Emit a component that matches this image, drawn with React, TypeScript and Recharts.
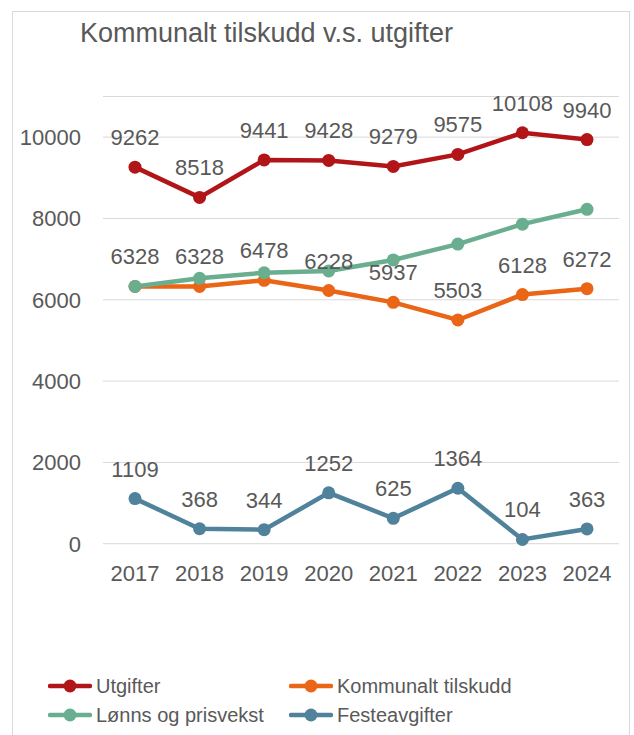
import { CartesianGrid, LabelList, Legend, Line, LineChart, XAxis, YAxis } from "recharts";

const years = ["2017", "2018", "2019", "2020", "2021", "2022", "2023", "2024"];
const utgifter = [9262, 8518, 9441, 9428, 9279, 9575, 10108, 9940];
const kommunaltTilskudd = [6328, 6328, 6478, 6228, 5937, 5503, 6128, 6272];
const lonnsOgPrisvekst = [6328, 6530, 6665, 6710, 6980, 7370, 7860, 8225];
const festeavgifter = [1109, 368, 344, 1252, 625, 1364, 104, 363];
const yTicks = [0, 2000, 4000, 6000, 8000, 10000];

const data = years.map((year, i) => ({
  year,
  utgifter: utgifter[i],
  tilskudd: kommunaltTilskudd[i],
  vekst: lonnsOgPrisvekst[i],
  feste: festeavgifter[i],
}));

const FONT = "'Liberation Sans', Arial, sans-serif";
const TEXT = "#595959";

const series = [
  { key: "utgifter", name: "Utgifter", color: "#B11518", labels: true },
  { key: "tilskudd", name: "Kommunalt tilskudd", color: "#EA6516", labels: true },
  { key: "vekst", name: "Lønns og prisvekst", color: "#69AE8F", labels: false },
  { key: "feste", name: "Festeavgifter", color: "#50829B", labels: true },
];

function LegendBox({ payload }: any) {
  // keep the series order, not the sorted one
  const items = [...(payload || [])].sort(
    (a: any, b: any) =>
      series.findIndex((s) => s.name === a.value) - series.findIndex((s) => s.name === b.value)
  );
  return (
    <div style={{ display: "grid", gridTemplateColumns: "241px 241px", rowGap: 9, fontFamily: FONT }}>
      {items.map((p: any) => (
        <div key={p.value} style={{ display: "flex", alignItems: "center", height: 20 }}>
          <svg width={44} height={16} style={{ marginRight: 4 }}>
            <line x1={2} y1={8} x2={42} y2={8} stroke={p.color} strokeWidth={4.5} strokeLinecap="round" />
            <circle cx={22} cy={8} r={6.5} fill={p.color} />
          </svg>
          <span style={{ fontSize: 20, color: TEXT, lineHeight: "20px" }}>{p.value}</span>
        </div>
      ))}
    </div>
  );
}

export default function App() {
  return (
    <div style={{ position: "absolute", left: 0, top: 0, width: 634, height: 735, background: "#fff", overflow: "hidden" }}>
      <div
        style={{
          position: "absolute",
          left: 12,
          top: 11,
          width: 618,
          height: 760,
          border: "1px solid #d9d9d9",
          boxSizing: "border-box",
        }}
      />
      <div
        style={{
          position: "absolute",
          left: 0,
          top: 20,
          width: 533,
          textAlign: "center",
          fontFamily: FONT,
          fontSize: 27,
          lineHeight: "27px",
          color: TEXT,
        }}
      >
        Kommunalt tilskudd v.s. utgifter
      </div>
      <LineChart
        width={634}
        height={735}
        data={data}
        margin={{ top: 96.5, right: 15, left: 14, bottom: 161.3 }}
        style={{ fontFamily: FONT }}
      >
        <CartesianGrid vertical={false} stroke="#d9d9d9" />
        <XAxis
          dataKey="year"
          axisLine={false}
          tickLine={false}
          tickSize={0}
          tickMargin={22}
          height={30}
          padding={{ left: 32, right: 32 }}
          tick={{ fontSize: 22, fill: TEXT, fontFamily: FONT }}
        />
        <YAxis
          domain={[0, 11000]}
          ticks={yTicks}
          axisLine={false}
          tickLine={false}
          tickSize={0}
          tickMargin={22}
          width={89}
          tick={{ fontSize: 22, fill: TEXT, fontFamily: FONT }}
        />
        <Legend
          layout="horizontal"
          verticalAlign="middle"
          align="center"
          content={<LegendBox />}
          wrapperStyle={{ top: 676, left: 48, width: 490, height: 60 }}
        />
        {series.map((s) => (
          <Line
            key={s.key}
            dataKey={s.key}
            name={s.name}
            type="linear"
            stroke={s.color}
            strokeWidth={4.5}
            dot={{ r: 6.5, fill: s.color, stroke: "none" }}
            activeDot={false}
            isAnimationActive={false}
          >
            {s.labels && (
              <LabelList
                dataKey={s.key}
                position="top"
                offset={22}
                style={{ fontSize: 22, fill: TEXT, fontFamily: FONT }}
              />
            )}
          </Line>
        ))}
      </LineChart>
    </div>
  );
}
